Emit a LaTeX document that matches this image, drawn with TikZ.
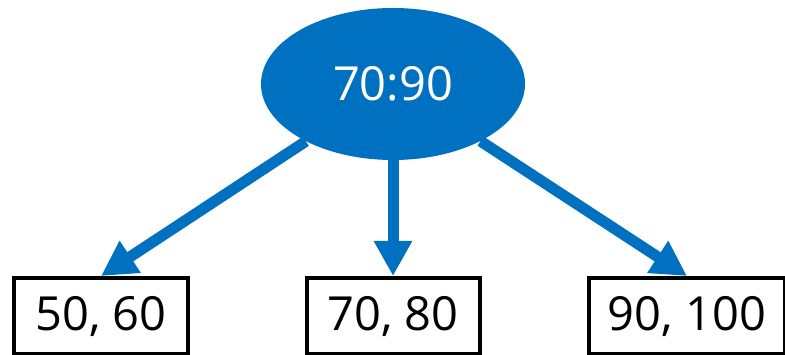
\documentclass[tikz,border=0pt]{standalone}
\usepackage{fontspec}
\setmainfont{Open Sans}
\usetikzlibrary{shapes.geometric, arrows.meta, positioning}

\definecolor{keyblue}{HTML}{0070C0}

\begin{document}
\begin{tikzpicture}[
    x=1pt, y=1pt,
    keynode/.style={ellipse, fill=keyblue, text=white, minimum width=264pt, minimum height=152pt, inner sep=0pt, font=\fontsize{47}{56}\selectfont},
    leafbox/.style={rectangle, draw=black, line width=4pt, fill=white, minimum height=76pt, inner sep=0pt, font=\fontsize{47}{56}\selectfont},
    arrow/.style={-{Triangle[width=36pt, length=35pt]}, line width=11pt, color=keyblue}
]

\clip (0,0) rectangle (785,355);

% Root key range
\node[keynode] (root) at (393,271) {70:90};

% Leaf pages
\node[leafbox, minimum width=174pt] (leafL) at (101,39) {50, 60};
\node[leafbox, minimum width=173pt] (leafM) at (393,39) {70, 80};
\node[leafbox, minimum width=196pt] (leafR) at (687,39) {90, 100};

\draw[arrow] (root) -- (leafL.north);
\draw[arrow] (root) -- (leafM.north);
\draw[arrow] (root) -- (leafR.north);

\end{tikzpicture}
\end{document}
